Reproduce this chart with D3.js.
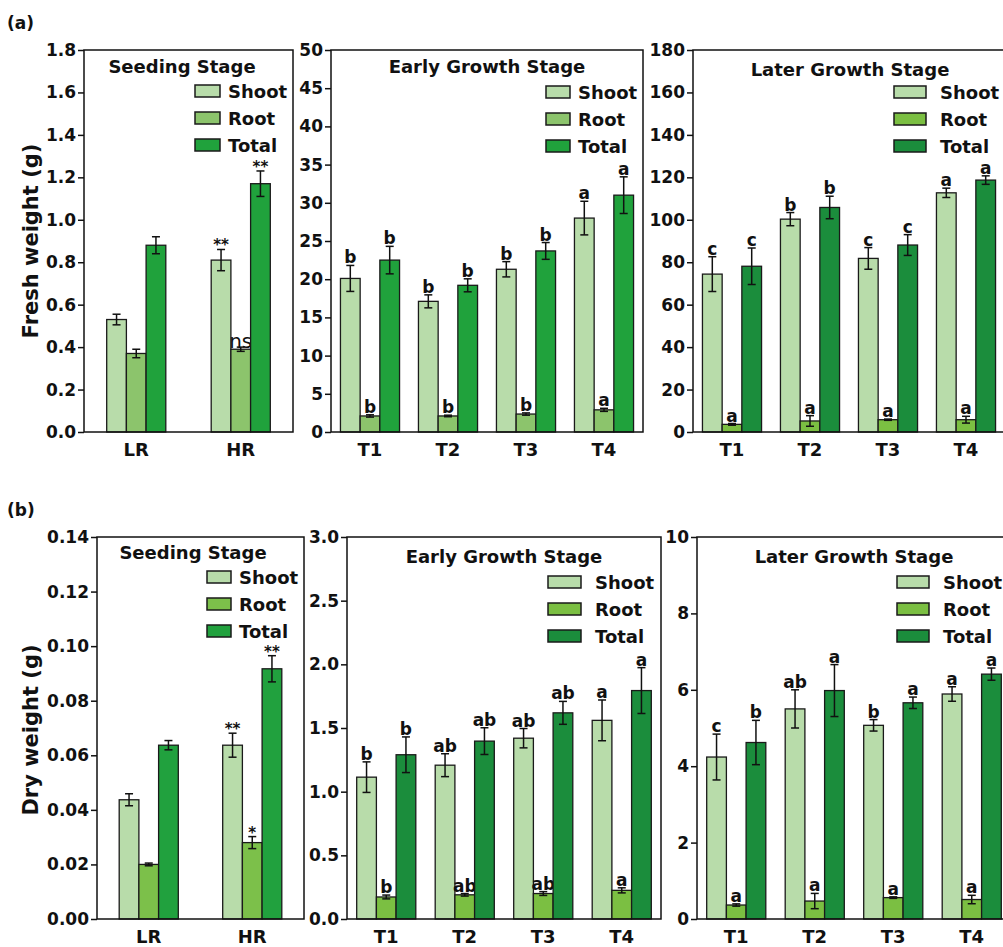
<!DOCTYPE html>
<html>
<head>
<meta charset="utf-8">
<script src="https://cdn.jsdelivr.net/npm/d3@7"></script>
<style>
  body { margin: 0; background: #fff; }
  svg { display: block; font-family: "DejaVu Sans", sans-serif; font-weight: bold; }
</style>
</head>
<body>
<svg id="chart" width="1003" height="947"></svg>
<script>
// categories / series
const seedCats = ["LR", "HR"];
const growthCats = ["T1", "T2", "T3", "T4"];
const seriesNames = ["Shoot", "Root", "Total"];

// (a) fresh weight -- rows are Shoot, Root, Total
const freshSeedMean = [[0.53, 0.81], [0.37, 0.39], [0.88, 1.17]];
const freshSeedErr = [[0.025, 0.05], [0.02, 0.01], [0.04, 0.06]];
const freshSeedMarks = [["", "**"], ["", "ns"], ["", "**"]];
const freshSeedTicks = [0, 0.2, 0.4, 0.6, 0.8, 1.0, 1.2, 1.4, 1.6, 1.8];

const freshEarlyMean = [[20.1, 17.1, 21.3, 28.0], [2.1, 2.1, 2.35, 2.9], [22.5, 19.2, 23.7, 31.0]];
const freshEarlyErr = [[1.7, 0.85, 1.0, 2.2], [0.15, 0.1, 0.15, 0.2], [1.8, 0.85, 1.1, 2.4]];
const freshEarlyMarks = [["b", "b", "b", "a"], ["b", "b", "b", "a"], ["b", "b", "b", "a"]];
const freshEarlyTicks = [0, 5, 10, 15, 20, 25, 30, 35, 40, 45, 50];

const freshLaterMean = [[74.4, 100.3, 81.8, 112.7], [3.6, 5.2, 5.8, 5.8], [78.1, 105.8, 88.1, 118.7]];
const freshLaterErr = [[8.2, 3.1, 5.1, 2.2], [0.4, 2.5, 0.3, 1.6], [8.6, 5.3, 4.9, 2.0]];
const freshLaterMarks = [["c", "b", "c", "a"], ["a", "a", "a", "a"], ["c", "b", "c", "a"]];
const freshLaterTicks = [0, 20, 40, 60, 80, 100, 120, 140, 160, 180];

// (b) dry weight
const drySeedMean = [[0.0437, 0.0637], [0.0200, 0.0280], [0.0637, 0.0917]];
const drySeedErr = [[0.0022, 0.0044], [0.0005, 0.0022], [0.0017, 0.0048]];
const drySeedMarks = [["", "**"], ["", "*"], ["", "**"]];
const drySeedTicks = [0, 0.02, 0.04, 0.06, 0.08, 0.10, 0.12, 0.14];

const dryEarlyMean = [[1.114, 1.208, 1.42, 1.56], [0.173, 0.19, 0.2, 0.225], [1.29, 1.397, 1.619, 1.794]];
const dryEarlyErr = [[0.12, 0.09, 0.076, 0.16], [0.015, 0.01, 0.015, 0.02], [0.14, 0.105, 0.09, 0.18]];
const dryEarlyMarks = [["b", "ab", "ab", "a"], ["b", "ab", "ab", "a"], ["b", "ab", "ab", "a"]];
const dryEarlyTicks = [0, 0.5, 1.0, 1.5, 2.0, 2.5, 3.0];

const dryLaterMean = [[4.24, 5.5, 5.07, 5.89], [0.366, 0.47, 0.56, 0.51], [4.62, 5.98, 5.66, 6.41]];
const dryLaterErr = [[0.6, 0.5, 0.15, 0.19], [0.03, 0.2, 0.02, 0.11], [0.58, 0.68, 0.15, 0.16]];
const dryLaterMarks = [["c", "ab", "b", "a"], ["a", "a", "a", "a"], ["b", "a", "a", "a"]];
const dryLaterTicks = [0, 2, 4, 6, 8, 10];

const colorsA = ["#b8dcaa", "#8cc46c", "#20a23c"];
const colorsB = ["#b8dcaa", "#7bbf42", "#1b8d3c"];
const colorsC = ["#b8dcaa", "#7cc04a", "#21a13e"];

const svg = d3.select("#chart");
const barW = 19.7;

const charts = [
  { cats: seedCats, mean: freshSeedMean, err: freshSeedErr, marks: freshSeedMarks, ticks: freshSeedTicks, fmt: ".1f",
    colors: colorsA, title: "Seeding Stage", x: 84, y: 50, w: 209, h: 382,
    leg: { tx: 182, ty: 73, sx: 195, sw: 25, textX: 228, y0: 91 } },
  { cats: growthCats, mean: freshEarlyMean, err: freshEarlyErr, marks: freshEarlyMarks, ticks: freshEarlyTicks, fmt: "d",
    colors: colorsA, title: "Early Growth Stage", x: 331, y: 50, w: 312, h: 382,
    leg: { tx: 487, ty: 73, sx: 546, sw: 24, textX: 578, y0: 92 } },
  { cats: growthCats, mean: freshLaterMean, err: freshLaterErr, marks: freshLaterMarks, ticks: freshLaterTicks, fmt: "d",
    colors: colorsB, title: "Later Growth Stage", x: 693, y: 50, w: 312, h: 382,
    leg: { tx: 850, ty: 76, sx: 894, sw: 32, textX: 940, y0: 92 } },
  { cats: seedCats, mean: drySeedMean, err: drySeedErr, marks: drySeedMarks, ticks: drySeedTicks, fmt: ".2f",
    colors: colorsC, title: "Seeding Stage", x: 97, y: 537, w: 207, h: 382,
    leg: { tx: 193, ty: 559, sx: 207, sw: 24, textX: 239, y0: 577 } },
  { cats: growthCats, mean: dryEarlyMean, err: dryEarlyErr, marks: dryEarlyMarks, ticks: dryEarlyTicks, fmt: ".1f",
    colors: colorsB, title: "Early Growth Stage", x: 347, y: 537, w: 314, h: 382,
    leg: { tx: 504, ty: 563, sx: 548, sw: 33, textX: 595, y0: 582 } },
  { cats: growthCats, mean: dryLaterMean, err: dryLaterErr, marks: dryLaterMarks, ticks: dryLaterTicks, fmt: "d",
    colors: colorsB, title: "Later Growth Stage", x: 697, y: 537, w: 314, h: 382,
    leg: { tx: 854, ty: 563, sx: 897, sw: 32, textX: 943, y0: 582 } }
];

function isStar(m) { return m.indexOf("*") === 0; }

function drawChart(c) {
  const g = svg.append("g").attr("transform", "translate(" + c.x + "," + c.y + ")");

  const x0 = d3.scaleBand().domain(c.cats).range([0, c.w]);
  const x1 = d3.scaleBand().domain(seriesNames).range([0, barW * 3]);
  const y = d3.scaleLinear().domain([0, c.ticks[c.ticks.length - 1]]).range([c.h, 0]);
  const off = (x0.bandwidth() - barW * 3) / 2;

  seriesNames.forEach((s, si) => {
    const rows = c.cats.map((cat, ci) => ({ cat: cat, v: c.mean[si][ci], e: c.err[si][ci], m: c.marks[si][ci] }));
    const cx = d => x0(d.cat) + off + x1(s) + x1.bandwidth() / 2;

    g.append("g").selectAll("rect")
      .data(rows)
      .enter().append("rect")
      .attr("x", d => x0(d.cat) + off + x1(s))
      .attr("y", d => y(d.v))
      .attr("width", x1.bandwidth())
      .attr("height", d => y(0) - y(d.v))
      .attr("fill", c.colors[si])
      .attr("stroke", "#1a1a1a")
      .attr("stroke-width", 1.3);

    // error bars
    const eb = g.append("g").attr("stroke", "#111").attr("stroke-width", 1.5);
    rows.forEach(d => {
      const x = cx(d);
      eb.append("line").attr("x1", x).attr("x2", x).attr("y1", y(d.v - d.e)).attr("y2", y(d.v + d.e));
      eb.append("line").attr("x1", x - 4).attr("x2", x + 4).attr("y1", y(d.v - d.e)).attr("y2", y(d.v - d.e));
      eb.append("line").attr("x1", x - 4).attr("x2", x + 4).attr("y1", y(d.v + d.e)).attr("y2", y(d.v + d.e));
    });

    // significance marks
    g.append("g").selectAll("text")
      .data(rows.filter(d => d.m !== ""))
      .enter().append("text")
      .attr("x", d => cx(d))
      .attr("y", d => (d.m === "ns" || isStar(d.m)) ? y(d.v + d.e) + 1 : y(d.v + d.e) - 2)
      .attr("text-anchor", "middle")
      .style("font-size", d => d.m === "ns" ? "20px" : (isStar(d.m) ? "15px" : "17px"))
      .style("font-weight", d => d.m === "ns" ? "normal" : "bold")
      .attr("fill", "#111")
      .text(d => d.m);
  });

  // y axis
  const yAxis = g.append("g")
    .call(d3.axisLeft(y).tickValues(c.ticks).tickFormat(d3.format(c.fmt)).tickSize(6).tickPadding(2));
  yAxis.select(".domain").remove();
  yAxis.selectAll("line").attr("stroke", "#111").attr("stroke-width", 1.5);
  yAxis.selectAll("text").style("font-size", "17px").style("font-family", "DejaVu Sans, sans-serif")
    .style("font-weight", "bold").attr("fill", "#111");

  // category labels
  g.append("g").selectAll("text")
    .data(c.cats)
    .enter().append("text")
    .attr("x", d => x0(d) + x0.bandwidth() / 2)
    .attr("y", c.h + 24)
    .attr("text-anchor", "middle")
    .style("font-size", "18px")
    .attr("fill", "#111")
    .text(d => d);

  // frame
  g.append("rect")
    .attr("width", c.w).attr("height", c.h)
    .attr("fill", "none").attr("stroke", "#111").attr("stroke-width", 1.5);

  // legend
  svg.append("text")
    .attr("x", c.leg.tx).attr("y", c.leg.ty)
    .attr("text-anchor", "middle")
    .style("font-size", "18px")
    .attr("fill", "#111")
    .text(c.title);

  seriesNames.forEach((s, si) => {
    const cy = c.leg.y0 + si * 27;
    svg.append("rect")
      .attr("x", c.leg.sx).attr("y", cy - 6)
      .attr("width", c.leg.sw).attr("height", 12)
      .attr("fill", c.colors[si]).attr("stroke", "#1a1a1a").attr("stroke-width", 1.5);
    svg.append("text")
      .attr("x", c.leg.textX).attr("y", cy + 7)
      .style("font-size", "18px")
      .attr("fill", "#111")
      .text(s);
  });
}

charts.forEach(drawChart);

// y axis titles
svg.append("text")
  .attr("transform", "translate(38,241) rotate(-90)")
  .attr("text-anchor", "middle")
  .style("font-size", "21px")
  .attr("fill", "#111")
  .text("Fresh weight (g)");

svg.append("text")
  .attr("transform", "translate(38,730) rotate(-90)")
  .attr("text-anchor", "middle")
  .style("font-size", "21px")
  .attr("fill", "#111")
  .text("Dry weight (g)");

// panel labels
svg.append("text").attr("x", 7).attr("y", 29).style("font-size", "17px").attr("fill", "#111").text("(a)");
svg.append("text").attr("x", 7).attr("y", 516).style("font-size", "17px").attr("fill", "#111").text("(b)");
</script>
</body>
</html>
